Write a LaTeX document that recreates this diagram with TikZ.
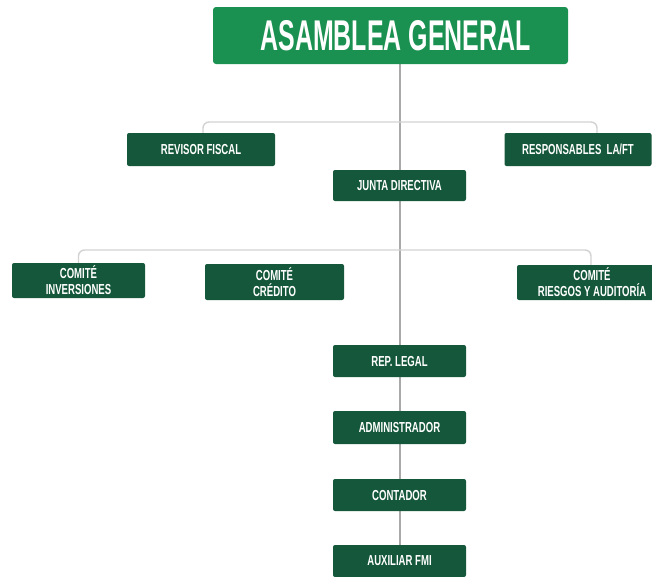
\documentclass[tikz,border=0pt]{standalone}
\usepackage{fontspec}
\usetikzlibrary{backgrounds}
\newfontfamily\cond{Liberation Sans}[FakeStretch=0.66]
\newfontfamily\condT{Liberation Sans}[FakeStretch=0.58]
\definecolor{topgreen}{HTML}{1B9151}
\definecolor{darkgreen}{HTML}{14573A}
\definecolor{vline}{HTML}{A9A9A9}
\definecolor{hline}{HTML}{D2D2D2}
\begin{document}
\begin{tikzpicture}[x=1pt,y=-1pt,
  box/.style={fill=darkgreen, text=white, rounded corners=2pt, inner sep=0pt,
    font=\cond\bfseries\fontsize{14.5}{16}\selectfont, align=center},
  titlebox/.style={fill=topgreen, text=white, rounded corners=3pt, inner sep=0pt,
    font=\condT\bfseries\fontsize{43}{43}\selectfont},
  vcon/.style={draw=vline, line width=1.1pt},
  hcon/.style={draw=hline, line width=1.4pt, rounded corners=6pt}]
\useasboundingbox (0,0) rectangle (652,576);
\begin{scope}
\clip (0,0) rectangle (652,576);
\coordinate (b1) at (400,122);
\coordinate (b2) at (400,250);
\node[titlebox, minimum width=355pt, minimum height=57pt] (top) at (390.5,35.5) {\hspace{10pt}ASAMBLEA GENERAL};
\node[box, minimum width=148pt, minimum height=33pt] (rev) at (201,149.5) {REVISOR FISCAL};
\node[box, minimum width=147pt, minimum height=33pt] (resp) at (578,149.5) {RESPONSABLES\ \ LA/FT};
\node[box, minimum width=133pt, minimum height=31pt] (junta) at (399.5,185.5) {JUNTA DIRECTIVA};
\node[box, minimum width=133pt, minimum height=35pt] (inv) at (78.5,280.5) {COMITÉ\\INVERSIONES};
\node[box, minimum width=139pt, minimum height=36pt] (cred) at (274.5,282) {COMITÉ\\CRÉDITO};
\node[box, minimum width=150pt, minimum height=35pt] (ries) at (592,282.5) {COMITÉ\\RIESGOS Y AUDITORÍA};
\node[box, minimum width=133pt, minimum height=32pt] (rep) at (399.5,361) {REP. LEGAL};
\node[box, minimum width=133pt, minimum height=33pt] (adm) at (399.5,427.5) {ADMINISTRADOR};
\node[box, minimum width=133pt, minimum height=32pt] (cont) at (399.5,495) {CONTADOR};
\node[box, minimum width=133pt, minimum height=32pt] (aux) at (399.5,561) {AUXILIAR FMI};
\begin{pgfonlayer}{background}
\draw[vcon] (top.south -| b1) -- (aux.north -| b1);
\draw[hcon] (b1) -| ([xshift=2pt]rev.north);
\draw[hcon] (b1) -| ([xshift=19pt]resp.north);
\draw[hcon] (b2) -| (inv.north);
\draw[hcon] (b2) -| ([xshift=-1pt]ries.north);
\end{pgfonlayer}
\end{scope}
\end{tikzpicture}
\end{document}
